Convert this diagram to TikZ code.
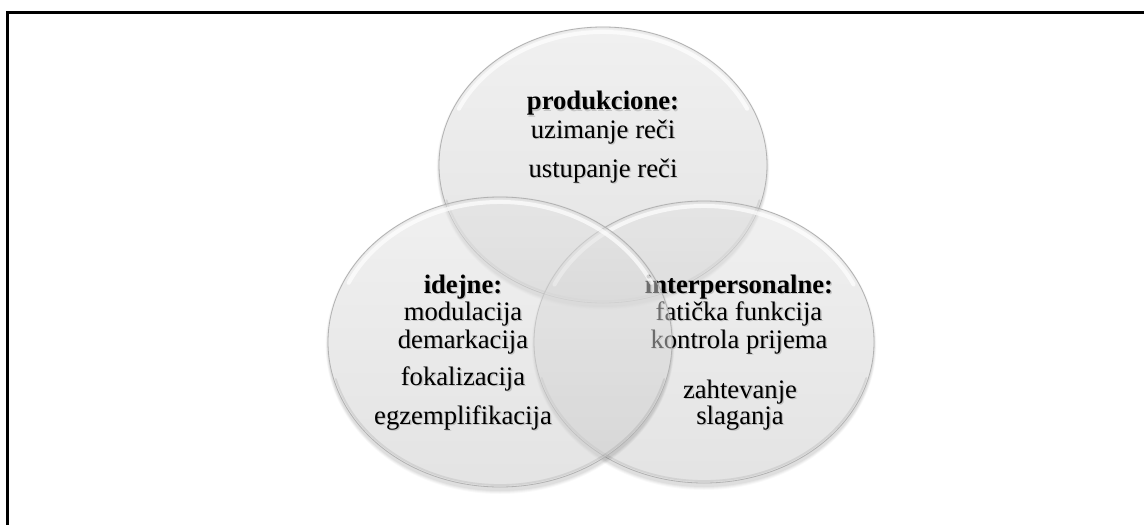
\documentclass[tikz,border=0pt]{standalone}
\usepackage{fontspec}
\setmainfont{Liberation Serif}
\newcommand\VennBall[4]{%
  % soft drop shadow, only outside the ball
  \foreach \k/\o in {8/0.025,6/0.03,4/0.035,2/0.04}
    \fill[black,opacity=\o,even odd rule]
      (#1,#2+3) ellipse[x radius=#3+\k*0.3, y radius=#4+\k*0.5]
      (#1,#2) ellipse[x radius=#3, y radius=#4];
  % translucent body
  \shade[top color=black!11, bottom color=black!21, opacity=0.5] (#1,#2) ellipse[x radius=#3, y radius=#4];
  % rim
  \draw[black!30, line width=0.6pt] (#1,#2) ellipse[x radius=#3, y radius=#4];
  % top highlight
  \draw[white, line width=3pt, opacity=0.7, line cap=round]
    (#1,#2) ++(205:#3-5 and #4-5) arc[start angle=205, end angle=335, x radius=#3-5, y radius=#4-5];
  % darker lower rim
  \draw[black, line width=1.4pt, opacity=0.08, line cap=round]
    (#1,#2) ++(15:#3-2 and #4-2) arc[start angle=15, end angle=165, x radius=#3-2, y radius=#4-2];
}
\newcommand\TwoLines[2]{\vtop{\baselineskip=19.5pt\halign{\hfil##\hfil\cr#1\cr#2\cr}}}
\tikzset{
  vlabel/.style={anchor=base, inner sep=0pt, font=\fontsize{20}{24}\selectfont},
  vshadow/.style={vlabel, text=black, opacity=0.16},
}
\newcommand\VennText[4]{%
  \node[vshadow] (#1s) at (#2+1.3,#3+1.8) {#4};
  \node[vlabel] (#1) at (#2,#3) {#4};
}
\begin{document}
\begin{tikzpicture}[x=0.75pt,y=-0.75pt]
\useasboundingbox (0,0) rectangle (1144,524);
\clip (0,0) rectangle (1144,524);
\fill[white] (0,0) rectangle (1144,524);
\draw[line width=1.6pt] (7.5,12.5) rectangle (1170,545);

% top circle
\VennBall{603}{165}{164}{138}
\VennText{p1}{603}{110}{\textbf{produkcione:}}
\VennText{p2}{603}{138}{uzimanje reči}
\VennText{p3}{603}{177}{ustupanje reči}

% right circle
\VennBall{704}{342}{170}{141}
\VennText{r1}{739}{293}{\textbf{interpersonalne:}}
\VennText{r2}{739}{320}{fatička funkcija}
\VennText{r3}{739}{348}{kontrola prijema}
\VennText{r4}{740}{398}{\TwoLines{zahtevanje}{slaganja}}

% left circle
\VennBall{500}{342}{172}{145}
\VennText{l1}{463}{293}{\textbf{idejne:}}
\VennText{l2}{463}{320}{modulacija}
\VennText{l3}{463}{348}{demarkacija}
\VennText{l4}{463}{385}{fokalizacija}
\VennText{l5}{463}{424}{egzemplifikacija}
\end{tikzpicture}
\end{document}
